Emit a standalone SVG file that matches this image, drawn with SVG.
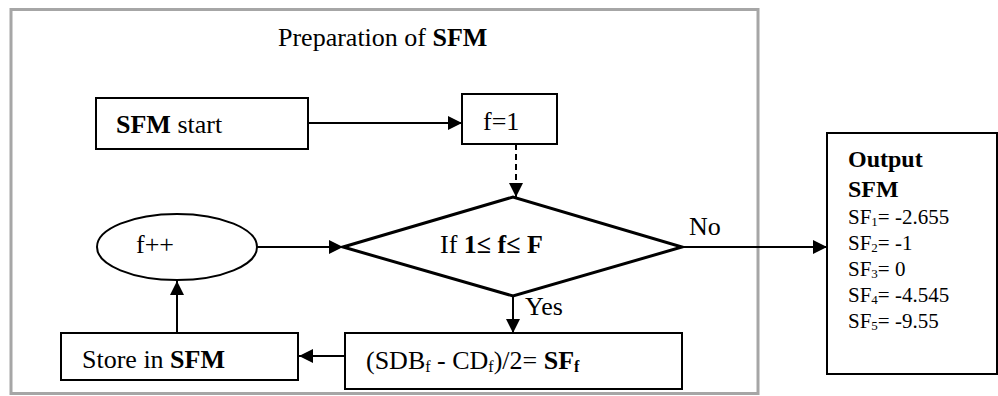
<svg xmlns="http://www.w3.org/2000/svg" width="998" height="396" viewBox="0 0 998 396">
  <defs>
    <marker id="arrow" markerWidth="14" markerHeight="14" refX="14" refY="7" orient="auto" markerUnits="userSpaceOnUse">
      <path d="M0,0 L14,7 L0,14 z" fill="#000"/>
    </marker>
    <style>
      text { font-family: "Liberation Serif", "Times New Roman", serif; fill: #000; }
      .t26 { font-size: 26px; }
      .t24 { font-size: 24px; }
      .t21 { font-size: 21px; }
      .b { font-weight: bold; }
      .box { fill: #fff; stroke: #000; stroke-width: 2; }
      .dia { fill: #fff; stroke: #000; stroke-width: 3; stroke-linejoin: miter; }
      .conn { fill: none; stroke: #000; stroke-width: 2; marker-end: url(#arrow); }
      .dash { stroke-dasharray: 6 4; }
    </style>
  </defs>

  <rect width="998" height="396" fill="#fff"/>

  <!-- preparation frame -->
  <g id="frame">
    <rect x="11" y="9.5" width="747" height="384" fill="none" stroke="#a6a6a6" stroke-width="3"/>
    <text x="278" y="46" class="t26">Preparation of <tspan class="b">SFM</tspan></text>
  </g>

  <!-- connectors -->
  <g id="connectors">
    <path class="conn" d="M308,123 L462,123"/>
    <path class="conn dash" d="M516,144 L516,197"/>
    <path class="conn" d="M257,247 L343,247"/>
    <path class="conn" d="M513,296 L513,333"/>
    <path class="conn" d="M345,356 L299,356"/>
    <path class="conn" d="M177,333 L177,281"/>
    <path class="conn" d="M682,247 L827,247"/>
    <text x="525" y="315" class="t26">Yes</text>
    <text x="689" y="235" class="t26">No</text>
  </g>

  <g id="sfm-start">
    <rect class="box" x="96" y="98" width="212" height="51"/>
    <text x="116" y="133" class="t26"><tspan class="b">SFM</tspan> start</text>
  </g>

  <g id="f-init">
    <rect class="box" x="462" y="94" width="95" height="50"/>
    <text x="483" y="130" class="t26">f=1</text>
  </g>

  <g id="condition">
    <polygon class="dia" points="343,247 513,197 682,247 513,296"/>
    <text x="440" y="253" class="t26">If <tspan class="b">1≤ f≤ F</tspan></text>
  </g>

  <g id="f-increment">
    <ellipse cx="177" cy="247" rx="80" ry="33" fill="#fff" stroke="#000" stroke-width="2"/>
    <text x="136" y="253" class="t26">f++</text>
  </g>

  <g id="store">
    <rect class="box" x="61" y="333" width="237" height="47"/>
    <text x="82" y="368" class="t26">Store in <tspan class="b">SFM</tspan></text>
  </g>

  <g id="compute">
    <rect class="box" x="345" y="333" width="337" height="56"/>
    <text x="366" y="369" class="t26">(SDB<tspan font-size="16" dy="3">f</tspan><tspan dy="-3"> - CD</tspan><tspan font-size="16" dy="3">f</tspan><tspan dy="-3">)/2= </tspan><tspan class="b">SF</tspan><tspan class="b" font-size="16" dy="3">f</tspan></text>
  </g>

  <g id="output">
    <rect class="box" x="827" y="133" width="170" height="241"/>
    <text x="848" y="167" class="t24 b">Output</text>
    <text x="848" y="197" class="t24 b">SFM</text>
    <text x="848" y="224" class="t21">SF<tspan font-size="13" dy="2">1</tspan><tspan dy="-2">= -2.655</tspan></text>
    <text x="848" y="250" class="t21">SF<tspan font-size="13" dy="2">2</tspan><tspan dy="-2">= -1</tspan></text>
    <text x="848" y="276" class="t21">SF<tspan font-size="13" dy="2">3</tspan><tspan dy="-2">= 0</tspan></text>
    <text x="848" y="302" class="t21">SF<tspan font-size="13" dy="2">4</tspan><tspan dy="-2">= -4.545</tspan></text>
    <text x="848" y="328" class="t21">SF<tspan font-size="13" dy="2">5</tspan><tspan dy="-2">= -9.55</tspan></text>
  </g>
</svg>
